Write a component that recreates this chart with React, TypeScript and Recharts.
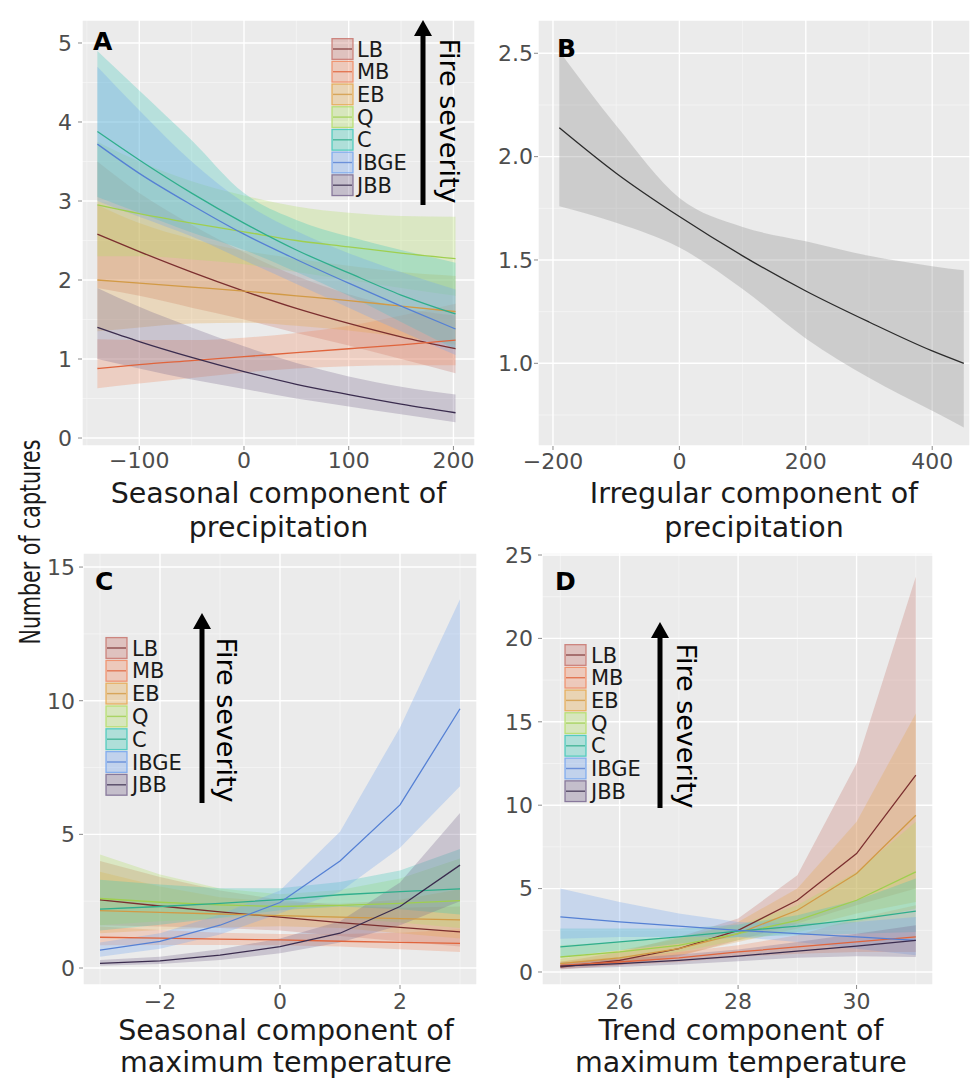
import React from "react";
import { ComposedChart, Area, Line, XAxis, YAxis, CartesianGrid } from "recharts";

// ---------- series / styling ----------
const SERIES = ["LB", "MB", "EB", "Q", "C", "IBGE", "JBB"];
const LINE_COLORS = ["#7b2f2f", "#e0643c", "#d29a45", "#9fcf4f", "#2fae8c", "#5580d4", "#3a2c4e"];
const FILL_COLORS = ["#c8766e", "#f08a62", "#e6a84e", "#b3de66", "#40c8b8", "#74a4ef", "#7a6a90"];

// ---------- Panel A: seasonal component of precipitation ----------
const A_X = [-140, -100, -50, 0, 50, 100, 150, 202];
const A_FIT = [
  [2.58, 2.36, 2.1, 1.86, 1.64, 1.45, 1.28, 1.13],
  [0.88, 0.93, 0.98, 1.03, 1.08, 1.13, 1.18, 1.24],
  [2.0, 1.96, 1.91, 1.86, 1.8, 1.74, 1.67, 1.6],
  [2.95, 2.84, 2.72, 2.61, 2.5, 2.42, 2.34, 2.27],
  [3.88, 3.52, 3.1, 2.72, 2.38, 2.09, 1.81, 1.57],
  [3.72, 3.35, 2.95, 2.58, 2.26, 1.96, 1.67, 1.38],
  [1.4, 1.22, 1.02, 0.84, 0.68, 0.55, 0.43, 0.32],
];
const A_LO = [
  [1.9, 1.8, 1.65, 1.5, 1.33, 1.17, 1.0, 0.82],
  [0.63, 0.69, 0.76, 0.83, 0.88, 0.91, 0.92, 0.92],
  [1.35, 1.4, 1.45, 1.46, 1.42, 1.36, 1.28, 1.18],
  [2.3, 2.3, 2.26, 2.2, 2.1, 2.0, 1.9, 1.8],
  [3.05, 2.85, 2.6, 2.38, 2.1, 1.8, 1.47, 1.12],
  [3.0, 2.8, 2.55, 2.25, 1.95, 1.65, 1.35, 1.05],
  [1.0, 0.88, 0.74, 0.62, 0.5, 0.4, 0.3, 0.2],
];
const A_HI = [
  [3.5, 3.1, 2.7, 2.35, 2.05, 1.82, 1.65, 1.55],
  [1.25, 1.24, 1.24, 1.27, 1.33, 1.42, 1.55, 1.7],
  [2.95, 2.72, 2.52, 2.37, 2.27, 2.18, 2.1, 2.05],
  [3.75, 3.5, 3.25, 3.07, 2.93, 2.85, 2.81, 2.8],
  [4.9, 4.4, 3.77, 3.1, 2.76, 2.55, 2.38, 2.22],
  [4.7, 4.15, 3.5, 2.98, 2.62, 2.34, 2.1, 1.88],
  [1.9, 1.66, 1.4, 1.16, 0.95, 0.78, 0.65, 0.55],
];
const A_XTICKS = [-100, 0, 100, 200];
const A_XMINOR = [-150, -50, 50, 150];
const A_YTICKS = [0, 1, 2, 3, 4, 5];
const A_YMINOR = [0.5, 1.5, 2.5, 3.5, 4.5];

// ---------- Panel B: irregular component of precipitation ----------
const B_X = [-190, -100, 0, 100, 200, 300, 400, 450];
const B_FIT = [2.14, 1.92, 1.71, 1.52, 1.35, 1.2, 1.06, 1.0];
const B_LO = [1.76, 1.68, 1.56, 1.36, 1.12, 0.93, 0.77, 0.69];
const B_HI = [2.51, 2.15, 1.8, 1.66, 1.59, 1.52, 1.47, 1.45];
const B_XTICKS = [-200, 0, 200, 400];
const B_XMINOR = [-100, 100, 300];
const B_YTICKS = [1.0, 1.5, 2.0, 2.5];
const B_YMINOR = [0.75, 1.25, 1.75, 2.25];

// ---------- Panel C: seasonal component of maximum temperature ----------
const C_X = [-3, -2, -1, 0, 1, 2, 3];
const C_FIT = [
  [2.55, 2.32, 2.1, 1.9, 1.7, 1.52, 1.35],
  [1.15, 1.12, 1.08, 1.05, 1.0, 0.96, 0.92],
  [2.15, 2.08, 2.02, 1.96, 1.9, 1.85, 1.8],
  [2.6, 2.46, 2.36, 2.3, 2.34, 2.42, 2.52],
  [2.2, 2.3, 2.42, 2.56, 2.74, 2.86, 2.96],
  [0.67, 1.0, 1.6, 2.45, 4.0, 6.1, 9.7],
  [0.17, 0.27, 0.48, 0.8, 1.3, 2.3, 3.85],
];
const C_LO = [
  [1.6, 1.55, 1.5, 1.4, 1.2, 1.0, 0.8],
  [0.85, 0.86, 0.86, 0.85, 0.8, 0.7, 0.6],
  [1.3, 1.42, 1.52, 1.56, 1.5, 1.3, 1.1],
  [1.6, 1.75, 1.86, 1.92, 1.86, 1.7, 1.5],
  [1.4, 1.62, 1.88, 2.16, 2.3, 2.2, 2.0],
  [0.42, 0.72, 1.25, 2.05, 2.85, 4.5, 6.8],
  [0.08, 0.15, 0.3, 0.55, 0.95, 1.6, 2.5],
];
const C_HI = [
  [4.0, 3.4, 2.9, 2.55, 2.35, 2.25, 2.3],
  [1.55, 1.42, 1.32, 1.27, 1.27, 1.32, 1.45],
  [3.6, 3.05, 2.65, 2.45, 2.4, 2.55, 2.95],
  [4.25, 3.5, 2.97, 2.76, 2.92, 3.35, 4.1],
  [3.3, 3.12, 2.98, 2.98, 3.22, 3.65, 4.45],
  [0.95, 1.3, 2.0, 2.9, 5.1, 9.0, 13.8],
  [0.3, 0.42, 0.7, 1.1, 1.75, 3.2, 5.8],
];
const C_XTICKS = [-2, 0, 2];
const C_XMINOR = [-3, -1, 1, 3];
const C_YTICKS = [0, 5, 10, 15];
const C_YMINOR = [2.5, 7.5, 12.5];

// ---------- Panel D: trend component of maximum temperature ----------
const D_X = [25, 26, 27, 28, 29, 30, 31];
const D_FIT = [
  [0.3, 0.7, 1.4, 2.5, 4.3, 7.1, 11.8],
  [0.4, 0.6, 0.85, 1.2, 1.5, 1.8, 2.1],
  [0.5, 0.85, 1.4, 2.3, 3.7, 5.9, 9.4],
  [0.9, 1.2, 1.6, 2.3, 3.1, 4.3, 6.0],
  [1.5, 1.8, 2.1, 2.45, 2.75, 3.15, 3.65],
  [3.3, 3.0, 2.75, 2.5, 2.3, 2.1, 1.9],
  [0.35, 0.5, 0.7, 0.95, 1.25, 1.55, 1.9],
];
const D_LO = [
  [0.15, 0.4, 0.95, 1.9, 2.9, 4.0, 5.0],
  [0.25, 0.4, 0.6, 0.9, 1.1, 1.2, 1.2],
  [0.3, 0.55, 1.0, 1.8, 2.6, 3.5, 4.2],
  [0.5, 0.8, 1.2, 1.9, 2.4, 3.0, 3.8],
  [0.9, 1.3, 1.7, 2.1, 2.2, 2.3, 2.4],
  [2.0, 2.1, 2.1, 2.1, 1.8, 1.4, 1.0],
  [0.2, 0.3, 0.45, 0.65, 0.85, 0.95, 0.9],
];
const D_HI = [
  [0.6, 1.2, 2.1, 3.2, 5.8, 12.5, 23.7],
  [0.65, 0.9, 1.2, 1.6, 2.2, 3.2, 4.0],
  [0.8, 1.3, 2.0, 3.0, 5.0, 9.0, 15.5],
  [1.6, 1.8, 2.1, 2.8, 4.0, 6.0, 9.0],
  [2.6, 2.6, 2.6, 2.85, 3.4, 4.3, 5.6],
  [5.0, 4.2, 3.5, 3.0, 2.9, 3.0, 3.3],
  [0.55, 0.8, 1.05, 1.35, 1.8, 2.3, 2.8],
];
const D_XTICKS = [26, 28, 30];
const D_XMINOR = [25, 27, 29, 31];
const D_YTICKS = [0, 5, 10, 15, 20, 25];
const D_YMINOR = [2.5, 7.5, 12.5, 17.5, 22.5];

// ---------- helpers ----------
const FONT = "'DejaVu Sans', Verdana, sans-serif";
const TOP_PAD = 14;

type SeriesDef = { key: string; line: string; fill: string; opacity: number };

function buildRows(xs: number[], fit: number[][], lo: number[][], hi: number[][], keys: string[]) {
  return xs.map((x, i) => {
    const row: any = { x };
    keys.forEach((s, k) => {
      row[s] = fit[k][i];
      row[s + "_band"] = [lo[k][i], hi[k][i]];
    });
    return row;
  });
}

const fmtMinus = (v: number) => (v < 0 ? "\u2212" + Math.abs(v) : String(v));

type PanelProps = {
  left: number;
  top: number;
  yw: number;
  pw: number;
  ph: number;
  data: any[];
  series: SeriesDef[];
  xDomain: [number, number];
  yDomain: [number, number];
  xTicks: number[];
  yTicks: number[];
  xMinor: number[];
  yMinor: number[];
  xGap: number;
  yGap: number;
  curve: "monotone" | "linear";
  yFmt?: (v: number) => string;
};

function Panel(p: PanelProps) {
  const xh = 40;
  const tickStyle = { fontSize: 22, fill: "#4d4d4d", fontFamily: FONT };
  return (
    <div style={{ position: "absolute", left: p.left, top: p.top - TOP_PAD }}>
      <ComposedChart
        width={p.yw + p.pw}
        height={p.ph + xh + TOP_PAD}
        data={p.data}
        margin={{ top: TOP_PAD, right: 0, bottom: 0, left: 0 }}
      >
        <CartesianGrid
          fill="#ebebeb"
          stroke="#f5f5f5"
          strokeWidth={0.8}
          horizontalValues={p.yMinor}
          verticalValues={p.xMinor}
        />
        <CartesianGrid stroke="#ffffff" strokeWidth={1.4} />
        <XAxis
          type="number"
          dataKey="x"
          domain={p.xDomain}
          ticks={p.xTicks}
          allowDataOverflow
          interval={0}
          axisLine={false}
          tickLine={{ stroke: "#8a8a8a" }}
          tickSize={4}
          tickMargin={p.xGap}
          tickFormatter={fmtMinus}
          tick={tickStyle}
          height={xh}
        />
        <YAxis
          type="number"
          domain={p.yDomain}
          ticks={p.yTicks}
          allowDataOverflow
          interval={0}
          axisLine={false}
          tickLine={{ stroke: "#8a8a8a" }}
          tickSize={4}
          tickMargin={p.yGap}
          tickFormatter={p.yFmt || fmtMinus}
          tick={tickStyle}
          width={p.yw}
        />
        {p.series.map((s) => (
          <Area
            key={s.key + "_band"}
            type={p.curve}
            dataKey={s.key + "_band"}
            stroke="none"
            fill={s.fill}
            fillOpacity={s.opacity}
            isAnimationActive={false}
            dot={false}
            activeDot={false}
          />
        ))}
        {p.series.map((s) => (
          <Line
            key={s.key}
            type={p.curve}
            dataKey={s.key}
            stroke={s.line}
            strokeWidth={1.3}
            dot={false}
            activeDot={false}
            isAnimationActive={false}
          />
        ))}
      </ComposedChart>
    </div>
  );
}

const MULTI: SeriesDef[] = SERIES.map((s, k) => ({
  key: s,
  line: LINE_COLORS[k],
  fill: FILL_COLORS[k],
  opacity: 0.3,
}));
const SINGLE: SeriesDef[] = [{ key: "fit", line: "#2b2b2b", fill: "#8f8f8f", opacity: 0.33 }];

const dataA = buildRows(A_X, A_FIT, A_LO, A_HI, SERIES);
const dataB = buildRows(B_X, [B_FIT], [B_LO], [B_HI], ["fit"]);
const dataC = buildRows(C_X, C_FIT, C_LO, C_HI, SERIES);
const dataD = buildRows(D_X, D_FIT, D_LO, D_HI, SERIES);

function LegendBlock({ bx, tx, y0, step }: { bx: number; tx: number; y0: number; step: number }) {
  const fs = 21;
  return (
    <g>
      {SERIES.map((s, k) => {
        const cy = y0 + k * step;
        return (
          <g key={s}>
            <rect
              x={bx}
              y={cy - step / 2 + 1}
              width={21}
              height={step - 2}
              fill={FILL_COLORS[k]}
              fillOpacity={0.35}
              stroke={FILL_COLORS[k]}
              strokeOpacity={0.85}
              strokeWidth={1.3}
            />
            <line x1={bx + 1} x2={bx + 20} y1={cy} y2={cy} stroke={LINE_COLORS[k]} strokeWidth={1.4} strokeOpacity={0.8} />
            <text x={tx} y={cy + 0.36 * fs} fontSize={fs} fontFamily={FONT} fill="#1a1a1a">
              {s}
            </text>
          </g>
        );
      })}
    </g>
  );
}

function Arrow({ x, tip, bottom, tx, tcy }: { x: number; tip: number; bottom: number; tx: number; tcy: number }) {
  const fs = 27;
  return (
    <g>
      <rect x={x - 2.5} y={tip + 12} width={5} height={bottom - tip - 12} fill="#000" />
      <polygon points={`${x - 9},${tip + 16} ${x + 9},${tip + 16} ${x},${tip}`} fill="#000" />
      <text
        transform={`translate(${tx},${tcy}) rotate(90)`}
        y={0.3 * fs}
        textAnchor="middle"
        fontSize={fs}
        fontFamily={FONT}
        fill="#000"
      >
        Fire severity
      </text>
    </g>
  );
}

function Overlay() {
  const tfs = 28.5;
  const title = { fontSize: tfs, fontFamily: FONT, fill: "#1a1a1a", textAnchor: "middle" as const };
  const letter = { fontSize: 25, fontFamily: FONT, fontWeight: 700, fill: "#000" };
  return (
    <svg
      width={972}
      height={1080}
      style={{ position: "absolute", left: 0, top: 0, pointerEvents: "none" }}
    >
      {/* panel letters */}
      <text x={93} y={50} {...letter}>A</text>
      <text x={557} y={57} {...letter}>B</text>
      <text x={95} y={590} {...letter}>C</text>
      <text x={555} y={590} {...letter}>D</text>

      {/* x-axis titles */}
      <text x={278.5} y={503} {...title}>Seasonal component of</text>
      <text x={278.5} y={537} {...title}>precipitation</text>
      <text x={754} y={503} {...title}>Irregular component of</text>
      <text x={754} y={537} {...title}>precipitation</text>
      <text x={286} y={1040} {...title}>Seasonal component of</text>
      <text x={286} y={1072} {...title}>maximum temperature</text>
      <text x={741} y={1040} {...title}>Trend component of</text>
      <text x={741} y={1072} {...title}>maximum temperature</text>

      {/* shared y-axis title */}
      <text
        transform="translate(32,542) rotate(-90)"
        y={0.3 * 28}
        textAnchor="middle"
        fontSize={28}
        fontFamily="'Liberation Sans Narrow', 'DejaVu Sans Condensed', 'Liberation Sans', sans-serif"
        fill="#1a1a1a"
        textLength={205}
        lengthAdjust="spacingAndGlyphs"
      >
        Number of captures
      </text>

      {/* legends */}
      <LegendBlock bx={332} tx={357} y0={49} step={22.7} />
      <LegendBlock bx={106} tx={132} y0={648} step={22.8} />
      <LegendBlock bx={565} tx={591} y0={655} step={22.7} />

      {/* fire severity arrows */}
      <Arrow x={423} tip={20} bottom={205} tx={448} tcy={121} />
      <Arrow x={202} tip={613} bottom={803} tx={225} tcy={720} />
      <Arrow x={660} tip={622} bottom={808} tx={685} tcy={726} />
    </svg>
  );
}

export default function App() {
  return (
    <div style={{ position: "absolute", left: 0, top: 0, width: 972, height: 1080, background: "#fff" }}>
      <Panel
        left={0}
        top={20}
        yw={82}
        pw={393}
        ph={426}
        data={dataA}
        series={MULTI}
        xDomain={[-154.7, 220.6]}
        yDomain={[-0.101, 5.291]}
        xTicks={A_XTICKS}
        yTicks={A_YTICKS}
        xMinor={A_XMINOR}
        yMinor={A_YMINOR}
        xGap={2}
        yGap={6}
        curve="monotone"
      />
      <Panel
        left={490}
        top={20}
        yw={48}
        pw={432}
        ph={426}
        data={dataB}
        series={SINGLE}
        xDomain={[-223.7, 459.8]}
        yDomain={[0.6, 2.661]}
        xTicks={B_XTICKS}
        yTicks={B_YTICKS}
        xMinor={B_XMINOR}
        yMinor={B_YMINOR}
        xGap={3}
        yGap={1}
        curve="monotone"
        yFmt={(v: number) => v.toFixed(1)}
      />
      <Panel
        left={0}
        top={553}
        yw={83}
        pw={394}
        ph={432}
        data={dataC}
        series={MULTI}
        xDomain={[-3.283, 3.283]}
        yDomain={[-0.636, 15.526]}
        xTicks={C_XTICKS}
        yTicks={C_YTICKS}
        xMinor={C_XMINOR}
        yMinor={C_YMINOR}
        xGap={4}
        yGap={4}
        curve="linear"
      />
      <Panel
        left={490}
        top={553}
        yw={52}
        pw={391}
        ph={432}
        data={dataD}
        series={MULTI}
        xDomain={[24.69, 31.29]}
        yDomain={[-0.78, 25.12]}
        xTicks={D_XTICKS}
        yTicks={D_YTICKS}
        xMinor={D_XMINOR}
        yMinor={D_YMINOR}
        xGap={4}
        yGap={5}
        curve="linear"
      />
      <Overlay />
    </div>
  );
}
